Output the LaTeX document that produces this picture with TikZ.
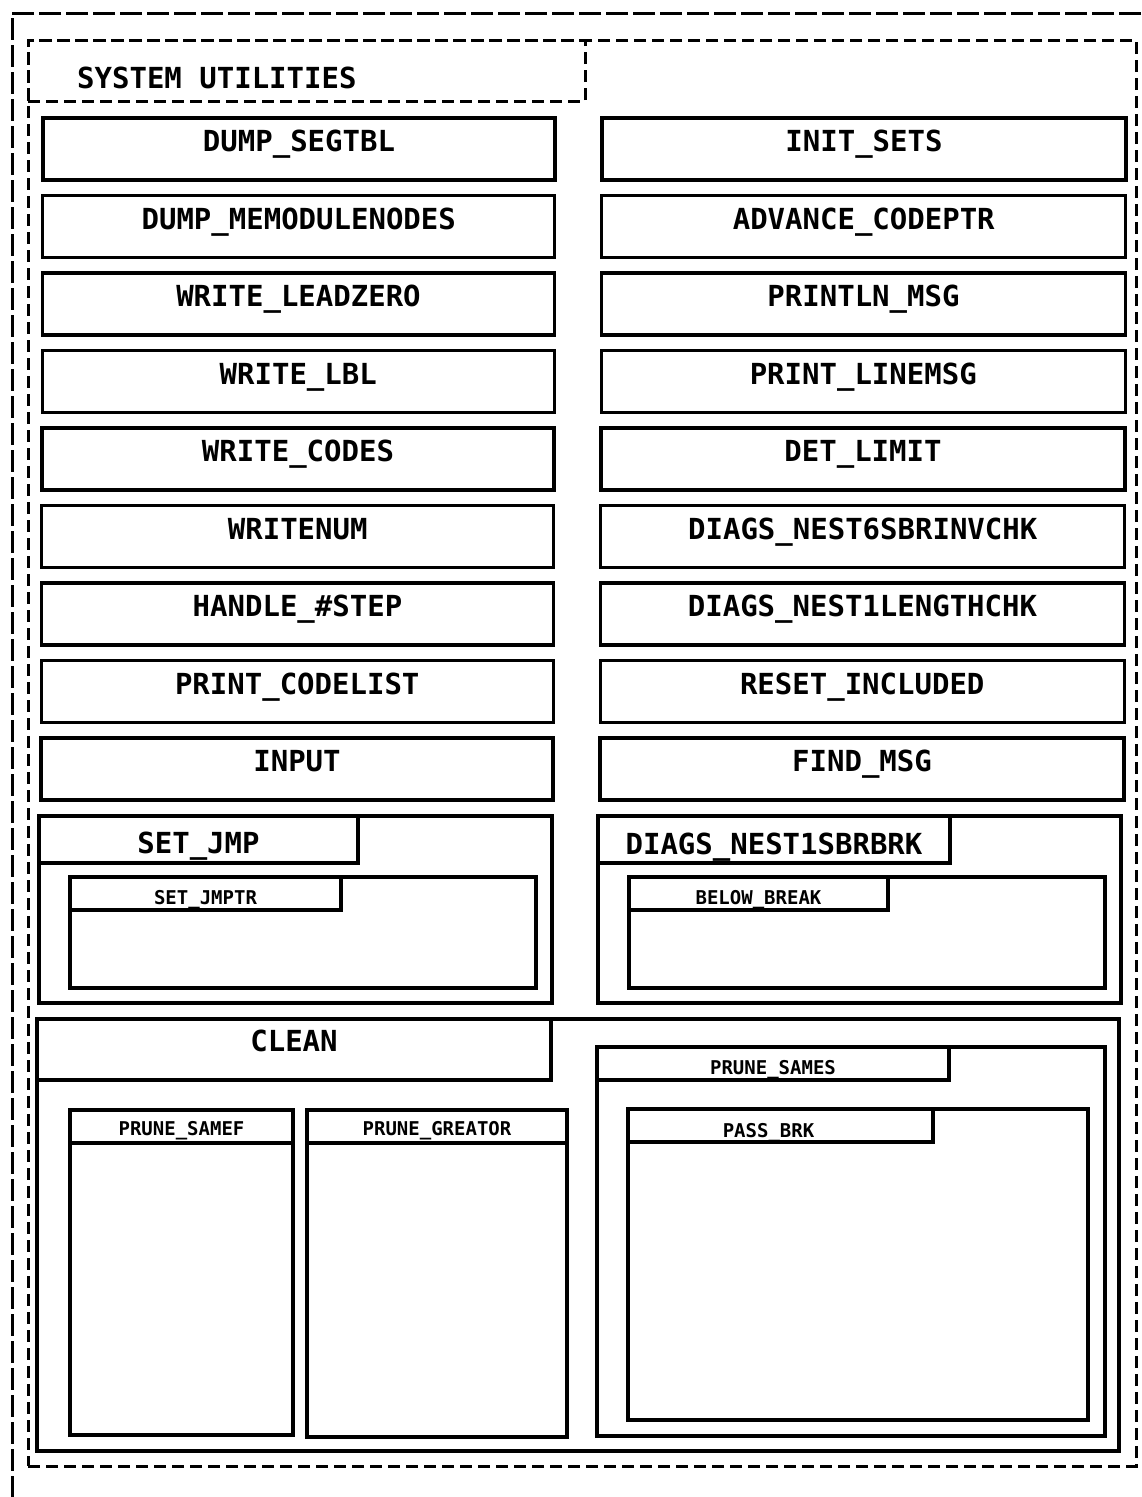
\documentclass[tikz,border=0pt]{standalone}
\usepackage{fontspec}
\setmainfont{DejaVu Sans Mono}
\usetikzlibrary{fit}
\tikzset{
  x=1pt, y=-1pt,
  frame/.style={draw=black, line width=3.3pt, inner sep=0pt, outer sep=0pt},
  dframe/.style={draw=black, line width=3pt, dash pattern=on 12pt off 6pt, inner sep=0pt, outer sep=0pt},
  big/.style={font=\fontsize{29}{30}\selectfont\bfseries, inner sep=0pt, text height=21pt, text depth=0pt},
  small/.style={font=\fontsize{19}{20}\selectfont\bfseries, inner sep=0pt, text height=14pt, text depth=0pt},
}
\begin{document}
\begin{tikzpicture}
\useasboundingbox (0,0) rectangle (1141,1497);
% page edge
\coordinate (pTR) at (1141,13);
\coordinate (pTL) at (12,13);
\coordinate (pBL) at (12,1497);
\draw[line width=3pt, dash pattern=on 22pt off 5pt] (pTR) -- (pTL) -- (pBL);
% system utilities container
\node[dframe, fit={(28,40) (1136,1466)}] (sys) {};
\node[dframe, fit={(28,40) (585,101)}] (systab) {};
\node[big, anchor=west] (systxt) at (77,78) {SYSTEM UTILITIES};

% left column
\foreach \n/\t [count=\i from 0] in {dseg/DUMP\_SEGTBL, dmem/DUMP\_MEMODULENODES, wlz/WRITE\_LEADZERO, wlbl/WRITE\_LBL, wcod/WRITE\_CODES, wnum/WRITENUM, hstep/HANDLE\_\#STEP, pcl/PRINT\_CODELIST, inp/INPUT}{
  \pgfmathsetmacro{\ya}{118+77.5*\i}
  \pgfmathsetmacro{\yb}{\ya+62}
  \pgfmathsetmacro{\xa}{43-0.25*\i}
  \pgfmathsetmacro{\xb}{555-0.25*\i}
  \node[frame, fit={(\xa,\ya) (\xb,\yb)}] (\n) {};
  \node[big] (\n-t) at ([yshift=8pt]\n.center) {\t};
}
% right column
\foreach \n/\t [count=\i from 0] in {iset/INIT\_SETS, acp/ADVANCE\_CODEPTR, pmsg/PRINTLN\_MSG, plm/PRINT\_LINEMSG, dlim/DET\_LIMIT, d6/DIAGS\_NEST6SBRINVCHK, d1l/DIAGS\_NEST1LENGTHCHK, rinc/RESET\_INCLUDED, fmsg/FIND\_MSG}{
  \pgfmathsetmacro{\ya}{118+77.5*\i}
  \pgfmathsetmacro{\yb}{\ya+62}
  \pgfmathsetmacro{\xa}{602-0.25*\i}
  \pgfmathsetmacro{\xb}{1126-0.25*\i}
  \node[frame, fit={(\xa,\ya) (\xb,\yb)}] (\n) {};
  \node[big] (\n-t) at ([yshift=8pt]\n.center) {\t};
}

% SET_JMP
\node[frame, fit={(39,816) (552,1003)}] (sj) {};
\node[frame, fit={(39,816) (358,863)}] (sjtab) {};
\node[big] (sj-t) at ([yshift=-3pt]sjtab.center) {SET\_JMP};
\node[frame, fit={(70,877) (536,988)}] (sjp) {};
\node[frame, fit={(70,877) (341,910)}] (sjptab) {};
\node[small] (sjp-t) at ([yshift=-3.5pt]sjptab.center) {SET\_JMPTR};

% DIAGS_NEST1SBRBRK
\node[frame, fit={(598,816) (1121,1003)}] (dn) {};
\node[frame, fit={(598,816) (950,863)}] (dntab) {};
\node[big] (dn-t) at ([yshift=-4pt]dntab.center) {DIAGS\_NEST1SBRBRK};
\node[frame, fit={(629,877) (1105,988)}] (bb) {};
\node[frame, fit={(629,877) (888,910)}] (bbtab) {};
\node[small] (bb-t) at ([yshift=-3.5pt]bbtab.center) {BELOW\_BREAK};

% CLEAN
\node[frame, fit={(37,1019) (1119,1451)}] (cl) {};
\node[frame, fit={(37,1019) (551,1080)}] (cltab) {};
\node[big] (cl-t) at ([yshift=9pt]cltab.center) {CLEAN};

\node[frame, fit={(70,1110) (293,1435)}] (psf) {};
\node[frame, fit={(70,1110) (293,1143)}] (psftab) {};
\node[small] (psf-t) at ([yshift=-1.5pt]psftab.center) {PRUNE\_SAMEF};

\node[frame, fit={(307,1110) (567,1437)}] (pg) {};
\node[frame, fit={(307,1110) (567,1143)}] (pgtab) {};
\node[small] (pg-t) at ([yshift=-1.5pt]pgtab.center) {PRUNE\_GREATOR};

\node[frame, fit={(597,1047) (1105,1436)}] (pss) {};
\node[frame, fit={(597,1047) (949,1080)}] (psstab) {};
\node[small] (pss-t) at ([yshift=-3.5pt]psstab.center) {PRUNE\_SAMES};

\node[frame, fit={(628,1109) (1088,1420)}] (pb) {};
\node[frame, fit={(628,1109) (933,1142)}] (pbtab) {};
\node[small] (pb-t) at ([xshift=-12pt,yshift=-4.5pt]pbtab.center) {PASS\_BRK};
\end{tikzpicture}
\end{document}
